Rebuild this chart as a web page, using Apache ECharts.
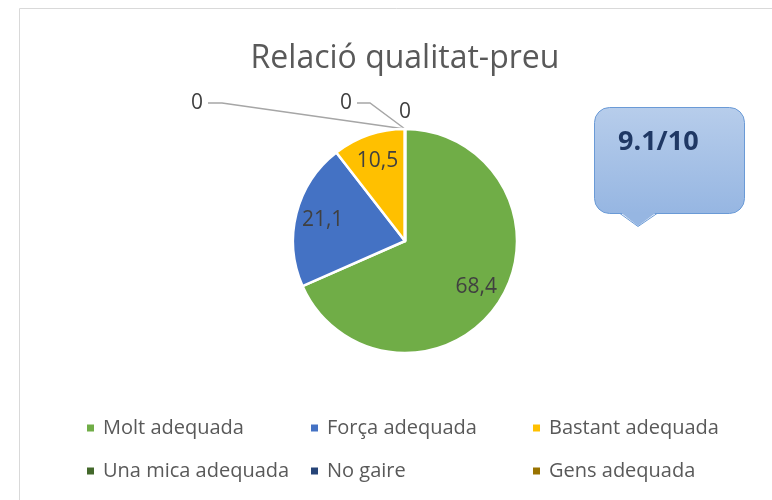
<!DOCTYPE html>
<html>
<head>
<meta charset="utf-8">
<script src="https://cdn.jsdelivr.net/npm/echarts@6/dist/echarts.min.js"></script>
<style>
  html, body { margin: 0; padding: 0; background: #fff; }
  #show { width: 772px; height: 500px; }
</style>
</head>
<body>
<div id="show"></div>
<script>
// dades del gràfic
var categories = ['Molt adequada', 'Força adequada', 'Bastant adequada', 'Una mica adequada', 'No gaire', 'Gens adequada'];
var values = [68.4, 21.1, 10.5, 0, 0, 0];
var colors = ['#70AD47', '#4472C4', '#FFC000', '#43682B', '#264478', '#997300'];
var score = '9.1/10';

var myChart = echarts.init(document.getElementById('show'));
var center = [405, 241];

// posicions de les etiquetes dels zeros, relatives al punt de la vora
var zeroOffsets = {
    3: {label: [-208, -26], bend: [-183, -26]},
    4: {label: [-59, -26], bend: [-35, -26]},
    5: {label: [0, -17]}
};

var data = [];
for (var i = 0; i < categories.length; i++) {
    var item = {name: categories[i], value: values[i], itemStyle: {color: colors[i]}};
    if (values[i] === 0) {
        item.label = {position: 'outside'};
        item.labelLine = {show: true};
    }
    data.push(item);
}

// una llegenda per columna (Excel les posa en graella)
var legendLeft = [80, 304, 526];
var legends = [];
for (var c = 0; c < 3; c++) {
    legends.push({
        orient: 'vertical',
        left: legendLeft[c],
        top: 413,
        icon: 'rect',
        itemWidth: 9,
        itemHeight: 9,
        itemGap: 23,
        data: [categories[c], categories[c + 3]],
        textStyle: {
            fontFamily: 'Open Sans',
            fontSize: 20,
            color: '#595959',
            padding: [0, 0, 0, 3]
        }
    });
}

var bubbleFill = new echarts.graphic.LinearGradient(0, 0, 0, 1, [
    {offset: 0, color: '#B7CDEB'},
    {offset: 1, color: '#96B6E2'}
]);

var option = {
    animation: false,
    title: {
        text: 'Relació qualitat-preu',
        left: 400,
        textAlign: 'center',
        top: 38,
        textStyle: {fontFamily: 'Open Sans', fontSize: 32, fontWeight: 'normal', color: '#595959'}
    },
    legend: legends,
    graphic: [
        {
            type: 'rect',
            shape: {x: 19.5, y: 8.5, width: 800, height: 600},
            style: {fill: 'none', stroke: '#D9D9D9', lineWidth: 1},
            silent: true
        },
        {
            type: 'rect',
            shape: {x: 594.5, y: 107.5, width: 150, height: 106, r: 15},
            style: {fill: bubbleFill, stroke: '#6A9AD6', lineWidth: 1}
        },
        {
            type: 'polygon',
            shape: {points: [[620, 212], [638, 226], [657, 212]]},
            style: {fill: '#96B6E2'}
        },
        {
            type: 'polyline',
            shape: {points: [[620, 213.5], [638, 226.5], [657, 213.5]]},
            style: {stroke: '#6A9AD6', lineWidth: 1, fill: null}
        },
        {
            type: 'text',
            left: 618,
            top: 129,
            style: {
                text: score,
                font: 'bold 27px "Open Sans"',
                fill: '#1F3864'
            }
        }
    ],
    series: [
        {
            name: 'Relació qualitat-preu',
            type: 'pie',
            center: center,
            radius: 112,
            startAngle: 90,
            clockwise: true,
            avoidLabelOverlap: false,
            itemStyle: {borderColor: '#fff', borderWidth: 2.5},
            label: {
                show: true,
                position: 'inside',
                fontFamily: 'Open Sans',
                fontSize: 21,
                color: '#404040',
                formatter: function (p) { return String(p.value).replace('.', ','); }
            },
            labelLine: {show: false, lineStyle: {color: '#A6A6A6', width: 1.5}},
            labelLayout: function (p) {
                var off = zeroOffsets[p.dataIndex];
                if (values[p.dataIndex] === 0 && off) {
                    var a = p.labelLinePoints ? p.labelLinePoints[0] : [center[0], center[1] - 112];
                    var res = {
                        x: a[0] + off.label[0],
                        y: a[1] + off.label[1],
                        align: 'center',
                        verticalAlign: 'middle'
                    };
                    if (off.bend) {
                        res.labelLinePoints = [
                            [a[0], a[1]],
                            [a[0] + off.bend[0], a[1] + off.bend[1]],
                            [a[0] + off.label[0] + 11, a[1] + off.label[1]]
                        ];
                    } else {
                        res.labelLinePoints = [[a[0], a[1]], [a[0], a[1]], [a[0], a[1]]];
                    }
                    return res;
                }
                var r = p.labelRect;
                var cx = r.x + r.width / 2, cy = r.y + r.height / 2;
                return {
                    x: center[0] + (cx - center[0]) * 1.44,
                    y: center[1] + (cy - center[1]) * 1.44,
                    align: 'center',
                    verticalAlign: 'middle'
                };
            },
            data: data
        }
    ]
};
myChart.setOption(option);
</script>
</body>
</html>
